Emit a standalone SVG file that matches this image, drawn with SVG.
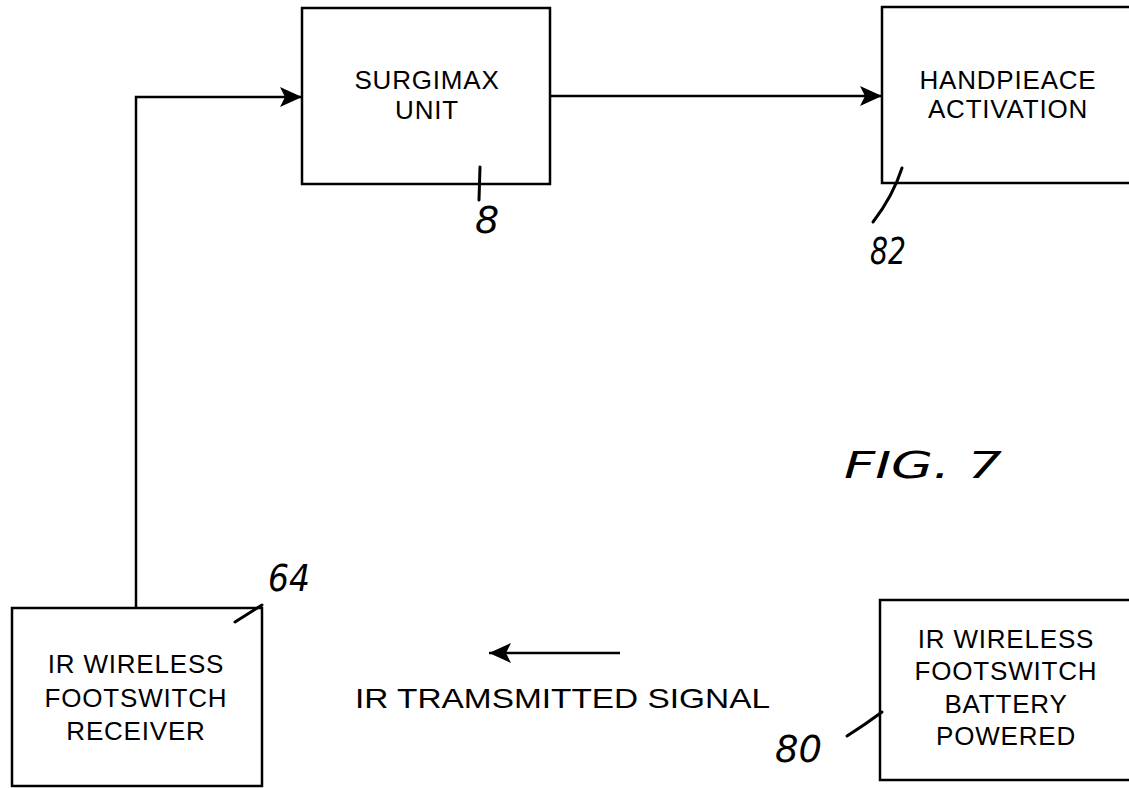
<svg xmlns="http://www.w3.org/2000/svg" width="1129" height="788" viewBox="0 0 1129 788">
<defs>
<style>
.box{fill:#fff;stroke:#000;stroke-width:2.5}
.lbl{font-family:"Liberation Sans",Arial,sans-serif;font-size:26px;letter-spacing:0.8px;fill:#000;text-anchor:middle}
.big{font-family:"Liberation Sans",Arial,sans-serif;font-size:28px;fill:#000}
.hand{font-family:"DejaVu Sans",sans-serif;font-style:italic;font-size:38px;fill:#000}
.line{fill:none;stroke:#000;stroke-width:2.5}
.lead{fill:none;stroke:#000;stroke-width:3;stroke-linecap:round}
</style>
<marker id="ahb" markerWidth="22" markerHeight="20" refX="22" refY="10" orient="auto" markerUnits="userSpaceOnUse" viewBox="0 0 22 20">
<path d="M0,0 L22,10 L0,20 L5,10 Z" fill="#000"/>
</marker>
</defs>
<rect width="1129" height="788" fill="#fff"/>
<g id="connectors">
<path class="line" d="M136,608 V97 H302" marker-end="url(#ahb)"/>
<path class="line" d="M550,96 H882" marker-end="url(#ahb)"/>
<path class="line" d="M620,653 H489" marker-end="url(#ahb)"/>
</g>
<g id="surgimax">
<rect class="box" x="302" y="8" width="248" height="176"/>
<text class="lbl" x="427" y="89">SURGIMAX</text>
<text class="lbl" x="427" y="119">UNIT</text>
<path class="lead" d="M480,167 L479,200"/>
<text class="hand" x="475" y="233" font-size="36">8</text>
</g>
<g id="handpiece">
<rect class="box" x="882" y="7" width="260" height="176"/>
<text class="lbl" x="1008" y="89">HANDPIEACE</text>
<text class="lbl" x="1008" y="118">ACTIVATION</text>
<path class="lead" d="M902,168 Q893,196 873,222"/>
<text class="hand" x="870" y="264" font-size="36" textLength="36" lengthAdjust="spacingAndGlyphs">82</text>
</g>
<g id="receiver">
<rect class="box" x="12" y="608" width="250" height="178"/>
<text class="lbl" x="136" y="673">IR WIRELESS</text>
<text class="lbl" x="136" y="707">FOOTSWITCH</text>
<text class="lbl" x="136" y="740">RECEIVER</text>
<path class="lead" d="M235,622 L262,605"/>
<text class="hand" x="268" y="591" textLength="42" lengthAdjust="spacingAndGlyphs">64</text>
</g>
<g id="footswitch">
<rect class="box" x="880" y="600" width="260" height="180"/>
<text class="lbl" x="1006" y="648">IR WIRELESS</text>
<text class="lbl" x="1006" y="680">FOOTSWITCH</text>
<text class="lbl" x="1006" y="713">BATTERY</text>
<text class="lbl" x="1006" y="745">POWERED</text>
<path class="lead" d="M847,736 Q866,724 882,712"/>
<text class="hand" x="775" y="762" font-size="36" textLength="47" lengthAdjust="spacingAndGlyphs">80</text>
</g>
<g id="signal">
<text class="big" x="355" y="708" textLength="415" lengthAdjust="spacingAndGlyphs">IR TRAMSMITTED SIGNAL</text>
</g>
<g id="fig">
<text class="hand" x="844" y="478" font-size="52" textLength="158" lengthAdjust="spacingAndGlyphs">FIG. 7</text>
</g>
</svg>
